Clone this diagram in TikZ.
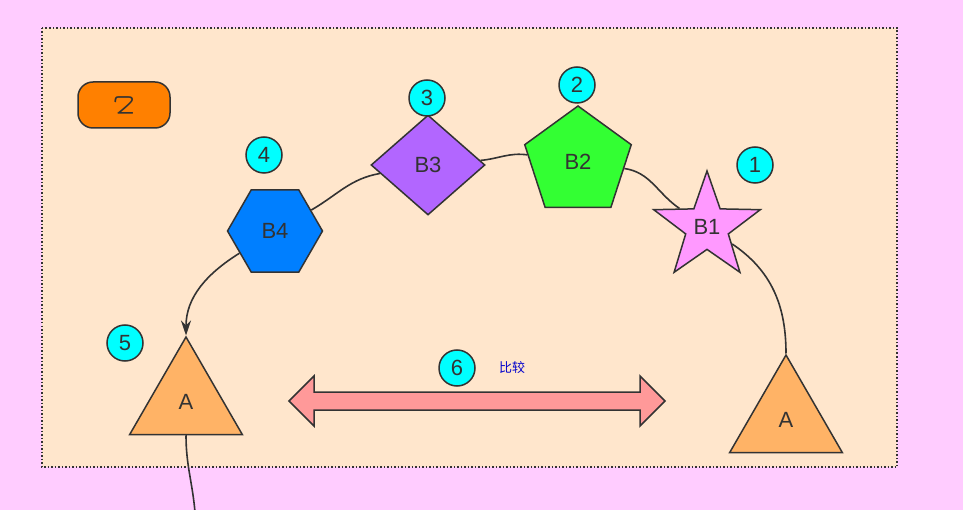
\documentclass[tikz,border=0pt]{standalone}
\usepackage{fontspec}
\setmainfont{Liberation Sans}
\newfontfamily\cjk{Noto Sans CJK SC}
\usetikzlibrary{shapes.geometric,arrows.meta,calc}
\definecolor{pinkbg}{HTML}{FFCCFF}
\definecolor{panel}{HTML}{FFE6CC}
\definecolor{linegrey}{HTML}{333333}
\definecolor{numcyan}{HTML}{00FFFF}
\tikzset{shapenode/.style={draw=linegrey,line width=1.5pt,text=linegrey,font=\fontsize{22}{22}\selectfont,inner sep=0pt},
  numnode/.style={circle,draw=linegrey,fill=numcyan,line width=1.5pt,minimum size=36pt,inner sep=0pt,text=linegrey,font=\fontsize{22}{22}\selectfont},
  arcline/.style={draw=linegrey,line width=1.6pt}}
\begin{document}
\begin{tikzpicture}[x=1pt,y=1pt]

\useasboundingbox (0,0) rectangle (963,-510);
\fill[pinkbg] (0,0) rectangle (963,-510);
\fill[panel] (42,-28) rectangle (897,-467);
\draw[linegrey,line width=1.5pt,dotted] (42,-28) rectangle (897,-467);

% nodes
\node[shapenode,rounded corners=15pt,fill={rgb,255:red,255;green,128;blue,0},minimum width=92pt,minimum height=46pt] (yi) at (124,-105) {\rotatebox{180}{\cjk 乙}};

\node[shapenode,regular polygon,regular polygon sides=6,minimum size=95pt,fill={rgb,255:red,0;green,127;blue,255}] (B4) at (275,-231) {B4};
\node[shapenode,diamond,minimum width=114pt,minimum height=100pt,fill={rgb,255:red,178;green,102;blue,255}] (B3) at (428,-165) {B3};
\node[shapenode,regular polygon,regular polygon sides=5,minimum size=112pt,fill={rgb,255:red,51;green,255;blue,51}] (B2) at (578,-162) {B2};
\node[shapenode,star,star points=5,star point ratio=2.5,minimum size=112pt,fill={rgb,255:red,255;green,153;blue,255}] (B1) at (707,-227) {B1};
\node[shapenode,regular polygon,regular polygon sides=3,minimum size=130pt,fill={rgb,255:red,255;green,179;blue,102}] (A1) at (186,-402) {A};
\node[shapenode,regular polygon,regular polygon sides=3,minimum size=130pt,fill={rgb,255:red,255;green,179;blue,102}] (A2) at (786,-420) {A};

\node[numnode] (n1) at (755,-165) {1};
\node[numnode] (n2) at (577,-85) {2};
\node[numnode] (n3) at (427,-98) {3};
\node[numnode] (n4) at (264,-155) {4};
\node[numnode] (n5) at (125,-343) {5};
\node[numnode] (n6) at (457,-368) {6};
\node[text={rgb,255:red,0;green,0;blue,204},font=\cjk\fontsize{13}{13}\selectfont] (cmp) at (512,-368) {比较};

% edges
\draw[arcline] (A2.corner 1) to[out=90,in=-34] (B1);
\draw[arcline] (B1) to[out=146,in=-8] (B2);
\draw[arcline] (B2) to[out=172,in=5] (B3);
\draw[arcline] (B3) to[out=190,in=30] (B4);
\draw[arcline,-{Stealth[length=15pt,width=10pt]}] (B4) to[out=212,in=90] (A1.corner 1);
\coordinate (tail) at (195,-512);
\draw[arcline] (A1.side 2) to[out=-90,in=95] (tail);

% double arrow
\coordinate (L) at (289,-401);
\coordinate (R) at (665,-401);
\draw[linegrey,line width=1.5pt,fill={rgb,255:red,255;green,153;blue,153}]
  (L) -- ++(25,25) -- ++(0,-16) -- ($(R)+(-25,9)$) -- ++(0,16) -- (R) -- ++(-25,-25) -- ++(0,16) -- ($(L)+(25,-9)$) -- ++(0,-16) -- cycle;

\end{tikzpicture}
\end{document}
